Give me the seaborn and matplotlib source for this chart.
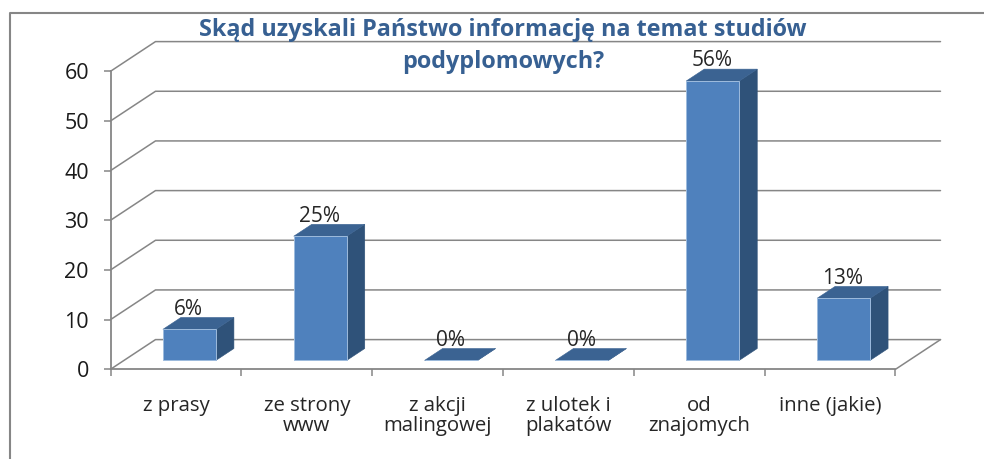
import matplotlib
matplotlib.use("Agg")
import matplotlib.pyplot as plt
from matplotlib.lines import Line2D
from matplotlib.patches import Polygon
import pandas as pd
import seaborn as sns

categories = ["z prasy", "ze strony\nwww", "z akcji\nmalingowej", "z ulotek i\nplakatów", "od\nznajomych", "inne (jakie)"]
values = [6.25, 25, 0, 0, 56.25, 12.5]
value_labels = ["6%", "25%", "0%", "0%", "56%", "13%"]
y_ticks = [0, 10, 20, 30, 40, 50, 60]
title_lines = ["Skąd uzyskali Państwo informację na temat studiów", "podyplomowych?"]

FRONT, SIDE, TOP, EDGE = "#4F81BD", "#2F5279", "#3B6392", "#9DBBDD"
GRID = "#868686"
TEXT = "#262626"

sns.set_theme(style="white")
plt.rcParams["font.family"] = ["Open Sans", "DejaVu Sans"]

W, H = 984, 459
fig = plt.figure(figsize=(W / 100, H / 100), dpi=100)
ax = fig.add_axes([110.5 / W, (H - 369.3) / H, 785 / W, 298 / H])

df = pd.DataFrame({"kategoria": categories, "wartosc": values})
sns.barplot(data=df, x="kategoria", y="wartosc", color=FRONT, saturation=1, width=0.405,
            linewidth=0.7, edgecolor=EDGE, ax=ax, zorder=5)
ax.set_xlim(-0.5, 5.5)
ax.set_ylim(0, 60)
ax.set_xlabel("")
ax.set_ylabel("")

# oblique projection: one full depth step, in data units
dx = 45 / (785 / 6)
dy = 29.7 / (298 / 60)

# back wall, side wall and floor
for v in y_ticks:
    ax.plot([-0.5, -0.5 + dx, 5.5 + dx], [v, v + dy, v + dy], color=GRID, lw=1.1, clip_on=False, zorder=1)
ax.plot([5.5, 5.5 + dx], [0, dy], color=GRID, lw=1.1, clip_on=False, zorder=1)

# 3D bars
f0, f1 = 0.30, 0.70
for patch, label in zip(ax.patches, value_labels):
    x0 = patch.get_x() + f0 * dx
    y0 = f0 * dy
    w, h = patch.get_width(), patch.get_height()
    patch.set_x(x0)
    patch.set_y(y0)
    patch.set_clip_on(False)
    ox, oy = (f1 - f0) * dx, (f1 - f0) * dy
    ax.add_patch(Polygon([(x0 + w, y0), (x0 + w + ox, y0 + oy), (x0 + w + ox, y0 + h + oy), (x0 + w, y0 + h)],
                         facecolor=SIDE, edgecolor=SIDE, lw=0.4, clip_on=False, zorder=4))
    ax.add_patch(Polygon([(x0, y0 + h), (x0 + ox, y0 + h + oy), (x0 + w + ox, y0 + h + oy), (x0 + w, y0 + h)],
                         facecolor=TOP, edgecolor=TOP, lw=0.4, clip_on=False, zorder=4))
    ax.annotate(label, xy=(x0 + w / 2, y0 + h), xytext=(-0.5, 14.5), textcoords="offset points",
                ha="center", va="center", fontsize=15, color=TEXT, zorder=6)

sns.despine(ax=ax)
for side in ("left", "bottom"):
    ax.spines[side].set_color(GRID)
    ax.spines[side].set_linewidth(1.3)
ax.set_yticks(y_ticks)
ax.set_xticks(range(len(categories)))
ax.set_xticklabels(categories)
ax.set_xticks([i - 0.5 for i in range(len(categories) + 1)], minor=True)
ax.tick_params(axis="x", which="major", length=0, pad=19, labelsize=14.7, labelcolor=TEXT)
ax.tick_params(axis="x", which="minor", length=5, width=1.1, color=GRID, bottom=True)
ax.tick_params(axis="y", length=5, width=1.1, color=GRID, pad=10.5, labelsize=15.5, labelcolor="#1a1a1a", left=True)
for t in ax.get_xticklabels():
    t.set_linespacing(1.0)
    t.set_va("top")

for line, ypx in zip(title_lines, [30, 62]):
    fig.text(503 / W, 1 - ypx / H, line, ha="center", va="center", fontsize=16.8, fontweight="bold",
             color="#376092")

# outer chart frame, cut by the crop on the right and at the bottom
fig.add_artist(Line2D([9.5 / W, 9.5 / W, 1], [0, 1 - 12.5 / H, 1 - 12.5 / H], color=GRID, lw=1.5))

fig.savefig("out.png", dpi=100, facecolor="white")
